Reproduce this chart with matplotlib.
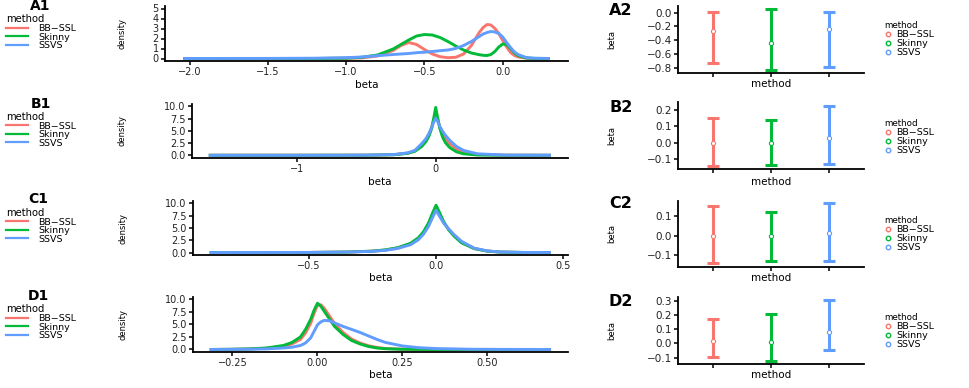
import matplotlib
matplotlib.use("Agg")
import matplotlib.pyplot as plt
from matplotlib.lines import Line2D

plt.rcParams['font.family'] = ['DejaVu Sans']

methods = ["BB\u2212SSL", "Skinny", "SSVS"]
colors = ["#F8766D", "#00BA38", "#619CFF"]

# ---------------- density data ----------------
a1_x = [-2.04, -1.5, -1.2, -1.0, -0.9, -0.8, -0.7, -0.65, -0.6, -0.55, -0.5, -0.45, -0.4, -0.35,
        -0.3, -0.25, -0.2, -0.15, -0.125, -0.1, -0.075, -0.05, -0.025, 0.0, 0.025, 0.05, 0.075,
        0.1, 0.15, 0.2, 0.3]
a1_bb = [0, 0, 0, 0.02, 0.06, 0.25, 0.8, 1.3, 1.6, 1.4, 0.9, 0.45, 0.18, 0.08, 0.12, 0.45, 1.3,
         2.6, 3.1, 3.4, 3.35, 3.0, 2.5, 1.8, 1.15, 0.6, 0.3, 0.15, 0.03, 0, 0]
a1_sk = [0, 0, 0, 0.03, 0.12, 0.35, 0.95, 1.4, 1.85, 2.25, 2.4, 2.35, 2.1, 1.7, 1.25, 0.85, 0.55,
         0.38, 0.32, 0.3, 0.4, 0.7, 1.15, 1.45, 1.4, 1.0, 0.55, 0.28, 0.05, 0.01, 0]
a1_ss = [0, 0.01, 0.03, 0.08, 0.15, 0.28, 0.4, 0.45, 0.5, 0.58, 0.63, 0.7, 0.78, 0.85, 1.0, 1.3,
         1.7, 2.2, 2.45, 2.6, 2.7, 2.65, 2.5, 2.15, 1.6, 1.1, 0.65, 0.38, 0.1, 0.03, 0]

b1_x = [-1.634, -1.0, -0.5, -0.3, -0.2, -0.15, -0.1, -0.07, -0.05, -0.03, -0.015, 0.0, 0.015,
        0.03, 0.05, 0.07, 0.1, 0.15, 0.2, 0.3, 0.5, 0.83]
b1_bb = [0, 0, 0.02, 0.12, 0.45, 0.9, 2.1, 3.1, 4.2, 5.6, 7.2, 8.8, 7.3, 5.7, 4.3, 3.4, 2.4,
         1.3, 0.6, 0.15, 0.01, 0]
b1_sk = [0, 0, 0.01, 0.1, 0.4, 0.8, 1.8, 2.8, 3.8, 5.4, 7.4, 9.8, 7.6, 5.5, 3.7, 2.6, 1.6, 0.7,
         0.3, 0.05, 0, 0]
b1_ss = [0, 0, 0.02, 0.15, 0.5, 1.0, 2.4, 3.4, 4.4, 5.6, 6.7, 7.6, 6.9, 5.9, 4.9, 4.1, 3.1, 1.8,
         1.0, 0.3, 0.03, 0]

c1_x = [-0.892, -0.5, -0.35, -0.25, -0.2, -0.15, -0.1, -0.07, -0.05, -0.03, -0.015, 0.0, 0.015,
        0.03, 0.05, 0.07, 0.1, 0.15, 0.2, 0.25, 0.35, 0.453]
c1_bb = [0, 0.02, 0.1, 0.28, 0.5, 0.95, 1.8, 2.8, 3.9, 5.6, 7.4, 9.1, 7.7, 6.1, 4.7, 3.5, 2.1,
         0.85, 0.32, 0.1, 0.01, 0]
c1_sk = [0, 0.02, 0.1, 0.3, 0.55, 1.0, 1.9, 3.0, 4.2, 6.0, 7.9, 9.65, 8.0, 6.3, 4.6, 3.4, 2.0,
         0.8, 0.3, 0.1, 0.01, 0]
c1_ss = [0, 0.02, 0.1, 0.25, 0.45, 0.85, 1.6, 2.6, 3.7, 5.3, 7.0, 8.6, 7.3, 6.0, 4.8, 3.7, 2.3,
         0.9, 0.35, 0.12, 0.02, 0]

d1_x = [-0.317, -0.25, -0.2, -0.15, -0.1, -0.075, -0.05, -0.035, -0.02, -0.01, 0.0, 0.01, 0.02,
        0.035, 0.05, 0.075, 0.1, 0.125, 0.15, 0.175, 0.2, 0.25, 0.3, 0.35, 0.45, 0.55, 0.687]
d1_bb = [0, 0.04, 0.1, 0.25, 0.65, 1.1, 2.0, 3.3, 5.2, 7.2, 8.8, 8.9, 8.2, 6.7, 5.2, 3.4, 2.1,
         1.3, 0.75, 0.4, 0.2, 0.06, 0.02, 0, 0, 0, 0]
d1_sk = [0, 0.05, 0.12, 0.3, 0.8, 1.4, 2.5, 4.0, 6.0, 7.8, 9.2, 8.6, 7.6, 6.1, 4.6, 3.0, 1.8,
         1.1, 0.6, 0.3, 0.15, 0.04, 0.01, 0, 0, 0, 0]
d1_ss = [0, 0.02, 0.05, 0.12, 0.3, 0.45, 0.8, 1.3, 2.3, 3.6, 4.9, 5.5, 5.8, 5.7, 5.3, 4.6, 4.0,
         3.4, 2.7, 2.0, 1.4, 0.7, 0.35, 0.18, 0.05, 0.02, 0]

# ---------------- interval data (low, mid, high) ----------------
a2_low = [-0.736, -0.83, -0.785]
a2_mid = [-0.266, -0.44, -0.24]
a2_high = [0.015, 0.05, 0.015]
b2_low = [-0.143, -0.135, -0.13]
b2_mid = [0.0, 0.0, 0.03]
b2_high = [0.149, 0.14, 0.225]
c2_low = [-0.144, -0.132, -0.132]
c2_mid = [0.0, -0.003, 0.012]
c2_high = [0.156, 0.122, 0.169]
d2_low = [-0.095, -0.122, -0.047]
d2_mid = [0.016, 0.007, 0.08]
d2_high = [0.171, 0.206, 0.305]

W, H = 969, 388
fig = plt.figure(figsize=(W / 100, H / 100), dpi=100)


def rect(l, t, r, b):
    return [l / W, 1 - b / H, (r - l) / W, (b - t) / H]


def fmt(v, nd):
    s = f"{v:.{nd}f}"
    return s.replace("-", "\u2212")


def style_axes(ax, ls):
    for s in ["top", "right"]:
        ax.spines[s].set_visible(False)
    for s in ["left", "bottom"]:
        ax.spines[s].set_linewidth(1.3)
        ax.spines[s].set_color("black")
    ax.tick_params(axis="both", length=3, width=1.1, color="black", labelsize=ls,
                   labelcolor="#222222", pad=1.5)
    ax.set_facecolor("white")


def place_label(ax, which, px, rect_px, text, size):
    l, t, r, b = rect_px
    if which == "x":
        ax.set_xlabel(text, fontsize=size)
        ax.xaxis.set_label_coords(0.5, (b - px) / (b - t))
        ax.xaxis.label.set_va("center")
    else:
        ax.set_ylabel(text, fontsize=size)
        ax.yaxis.set_label_coords((px - l) / (r - l), 0.5)
        ax.yaxis.label.set_va("center")


rows = [
    dict(lab="A", x=a1_x, ys=[a1_bb, a1_sk, a1_ss],
         lrect=(165, 6, 568, 61), xlim=(-2.157, 0.417), xt=[-2, -1.5, -1, -0.5, 0], xnd=1,
         ylim=(-0.25, 5.25), yt=[0, 1, 2, 3, 4, 5], ynd=0,
         rrect=(678, 6, 864, 72.7), rylim=(-0.873, 0.097), ryt=[-0.8, -0.6, -0.4, -0.2, 0.0],
         lo=a2_low, mid=a2_mid, hi=a2_high,
         lleg=14.5, rleg=21, llab=(40, 6), rlab=(621, 10.5),
         lxl=85, lyl=122, rxl=84.3),
    dict(lab="B", x=b1_x, ys=[b1_bb, b1_sk, b1_ss],
         lrect=(191.7, 104, 568, 157.7), xlim=(-1.757, 0.953), xt=[-1, 0], xnd=0,
         ylim=(-0.5, 10.5), yt=[0, 2.5, 5, 7.5, 10], ynd=1,
         rrect=(678, 101.7, 864, 169), rylim=(-0.161, 0.251), ryt=[-0.1, 0.0, 0.1, 0.2],
         lo=b2_low, mid=b2_mid, hi=b2_high,
         lleg=112, rleg=119, llab=(41, 103.5), rlab=(621, 107),
         lxl=181.7, lyl=122, rxl=181.7),
    dict(lab="C", x=c1_x, ys=[c1_bb, c1_sk, c1_ss],
         lrect=(192.7, 201, 568, 255), xlim=(-0.959, 0.52), xt=[-0.5, 0, 0.5], xnd=1,
         ylim=(-0.5, 10.5), yt=[0, 2.5, 5, 7.5, 10], ynd=1,
         rrect=(678, 200.7, 864, 266.7), rylim=(-0.161, 0.182), ryt=[-0.1, 0.0, 0.1],
         lo=c2_low, mid=c2_mid, hi=c2_high,
         lleg=208, rleg=216, llab=(38, 199.5), rlab=(621, 203),
         lxl=278.3, lyl=122.5, rxl=278.3),
    dict(lab="D", x=d1_x, ys=[d1_bb, d1_sk, d1_ss],
         lrect=(192.7, 296.7, 568, 352), xlim=(-0.367, 0.737), xt=[-0.25, 0, 0.25, 0.5], xnd=2,
         ylim=(-0.5, 10.5), yt=[0, 2.5, 5, 7.5, 10], ynd=1,
         rrect=(678, 297.3, 864, 363.7), rylim=(-0.143, 0.324), ryt=[-0.1, 0.0, 0.1, 0.2, 0.3],
         lo=d2_low, mid=d2_mid, hi=d2_high,
         lleg=304.5, rleg=313, llab=(38, 296), rlab=(621, 301),
         lxl=375, lyl=122.5, rxl=375),
]

for r in rows:
    # ---- left density panel ----
    ax = fig.add_axes(rect(*r["lrect"]))
    style_axes(ax, 7)
    for name, y, c in zip(methods, r["ys"], colors):
        ax.plot(r["x"], y, color=c, lw=2.1, solid_capstyle="butt", label=name)
    ax.set_xlim(*r["xlim"])
    ax.set_ylim(*r["ylim"])
    ax.set_xticks(r["xt"])
    ax.set_xticklabels([fmt(v, r["xnd"]) for v in r["xt"]])
    ax.set_yticks(r["yt"])
    ax.set_yticklabels([fmt(v, r["ynd"]) for v in r["yt"]])
    place_label(ax, "x", r["lxl"], r["lrect"], "beta", 7.5)
    place_label(ax, "y", r["lyl"], r["lrect"], "density", 6)

    ax.legend(handles=[Line2D([], [], color=c, lw=1.6) for c in colors], labels=methods,
              title="method", loc="upper left",
              bbox_to_anchor=(6 / W, 1 - r["lleg"] / H), bbox_transform=fig.transFigure,
              frameon=False, fontsize=6.8, title_fontsize=7.2, handlelength=2.3,
              handletextpad=1.1, labelspacing=-0.05, borderpad=0, borderaxespad=0,
              alignment="left")

    fig.text(r["llab"][0] / W, 1 - r["llab"][1] / H, r["lab"] + "1", fontsize=10,
             fontweight="bold", ha="center", va="center")

    # ---- right interval panel ----
    ax2 = fig.add_axes(rect(*r["rrect"]))
    style_axes(ax2, 7.5)
    pos = [1, 2, 3]
    for i, c in enumerate(colors):
        m = r["mid"][i]
        ax2.errorbar([pos[i]], [m], yerr=[[m - r["lo"][i]], [r["hi"][i] - m]], fmt="none",
                     ecolor=c, elinewidth=2.2, capsize=4.5, capthick=2.2)
        ax2.plot([pos[i]], [m], "o", ms=3, mfc="white", mec=c, mew=0.8)
    ax2.set_xlim(0.4, 3.6)
    ax2.set_ylim(*r["rylim"])
    ax2.set_xticks(pos)
    ax2.set_xticklabels(["", "", ""])
    ax2.set_yticks(r["ryt"])
    ax2.set_yticklabels([fmt(v, 1) for v in r["ryt"]])
    place_label(ax2, "x", r["rxl"], r["rrect"], "method", 7.5)
    place_label(ax2, "y", 612, r["rrect"], "beta", 6)

    rh = [Line2D([], [], ls="", marker="o", ms=3.2, mfc="white", mec=c, mew=1.0) for c in colors]
    ax2.legend(handles=rh, labels=methods, title="method", loc="upper left",
               bbox_to_anchor=(884 / W, 1 - r["rleg"] / H), bbox_transform=fig.transFigure,
               frameon=False, fontsize=6.8, title_fontsize=6.3, handlelength=0.8,
               handletextpad=0.5, labelspacing=0.0, borderpad=0, borderaxespad=0,
               alignment="left")

    fig.text(r["rlab"][0] / W, 1 - r["rlab"][1] / H, r["lab"] + "2", fontsize=11.5,
             fontweight="bold", ha="center", va="center")

fig.savefig("out.png", dpi=100, facecolor="white")
